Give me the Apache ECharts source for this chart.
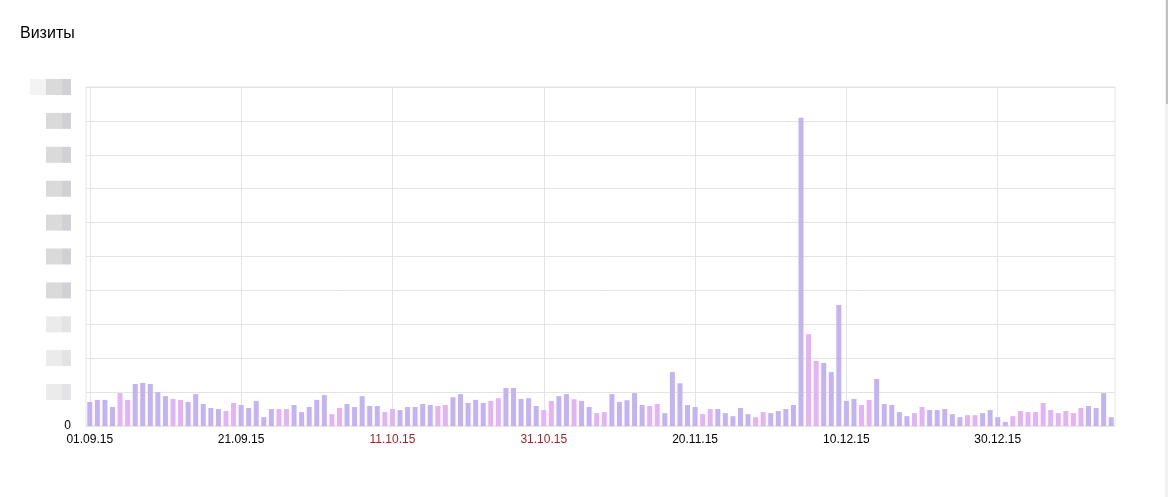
<!DOCTYPE html>
<html>
<head>
<meta charset="utf-8">
<script src="https://cdn.jsdelivr.net/npm/echarts@6/dist/echarts.min.js"></script>
<style>
html,body{margin:0;padding:0;background:#fff;}
#chart{width:1168px;height:497px;}
</style>
</head>
<body>
<div id="chart"></div>
<script>
const titleText = 'Визиты';
const startDate = [2015, 8, 1]; // 01.09.15
const dayCount = 136;
const holidays = ['04.11.15','01.01.16','02.01.16','03.01.16','04.01.16','05.01.16','06.01.16','07.01.16','08.01.16'];
const visits = [
  71,77,77,56,97,77,124,127,124,100,88,80,77,71,94,65,53,50,44,68,
  62,53,74,26,50,50,50,62,41,56,77,91,35,53,65,56,88,59,59,41,
  50,47,56,56,65,62,59,62,85,94,68,77,68,74,82,112,112,80,82,59,
  47,74,88,94,79,74,56,38,41,94,71,76,97,62,59,65,38,159,126,62,
  56,35,50,50,38,29,53,35,26,41,38,44,50,62,909,271,192,186,159,357,
  74,80,62,77,139,65,62,41,29,38,56,47,47,50,35,26,32,32,38,47,
  26,12,29,44,41,41,68,47,38,44,38,53,59,53,97,26
];
const yMax = 1000;
const yInterval = 100;

function pad(n){ return (n<10?'0':'')+n; }
const categories = [];
const offDay = [];
for (let i = 0; i < dayCount; i++) {
  const d = new Date(startDate[0], startDate[1], startDate[2] + i);
  const lbl = pad(d.getDate()) + '.' + pad(d.getMonth()+1) + '.' + String(d.getFullYear()).slice(2);
  categories.push(lbl);
  const wd = d.getDay();
  offDay.push(wd === 0 || wd === 6 || holidays.indexOf(lbl) >= 0);
}

const weekdayColor = '#c3b3f3';
const weekendColor = '#e4b3f5';
const gridColor = '#e4e4e4';

const chart = echarts.init(document.getElementById('chart'));
chart.setOption({
  animation: false,
  backgroundColor: '#fff',
  title: {
    text: titleText, left: 15, top: 21,
    textStyle: {fontFamily: 'Liberation Sans, Arial, sans-serif', fontSize: 16, fontWeight: 'normal', color: '#000'}
  },
  grid: {left: 86, right: 53, top: 87, bottom: 71, show: true, borderColor: gridColor, borderWidth: 1, backgroundColor: 'transparent'},
  xAxis: {
    type: 'category',
    data: categories,
    boundaryGap: true,
    axisLine: {lineStyle: {color: gridColor}},
    axisTick: {show: false, interval: 19, alignWithLabel: true},
    splitLine: {show: true, interval: 19, alignWithLabel: true, lineStyle: {color: gridColor, width: 1}},
    axisLabel: {
      interval: 19, margin: 8,
      fontFamily: 'Liberation Sans, Arial, sans-serif', fontSize: 12,
      color: function (v, i) { return offDay[categories.indexOf(v)] ? '#98292a' : '#000'; }
    }
  },
  yAxis: {
    type: 'value', min: 0, max: yMax, interval: yInterval,
    axisLine: {show: false}, axisTick: {show: false},
    splitLine: {lineStyle: {color: gridColor, width: 1}},
    axisLabel: {
      margin: 15,
      fontFamily: 'Liberation Sans, Arial, sans-serif', fontSize: 12, color: '#000',
      formatter: function (v) {
        if (v === 0) return '0';
        if (v >= 1000) return '{w|}{a|}{b|}';
        if (v <= 300) return '{la|}{lb|}';
        return '{a|}{b|}';
      },
      rich: {
        w: {width: 16, height: 16, backgroundColor: '#f3f3f3'},
        a: {width: 16, height: 16, backgroundColor: '#dadada'},
        b: {width: 9, height: 16, backgroundColor: '#d0d0d5'},
        la: {width: 16, height: 16, backgroundColor: '#ebebeb'},
        lb: {width: 9, height: 16, backgroundColor: '#e3e3e6'}
      }
    }
  },
  series: [{
    type: 'bar',
    barWidth: 5,
    data: visits.map(function (v, i) {
      return {value: v, itemStyle: {color: offDay[i] ? weekendColor : weekdayColor}};
    })
  }],
  graphic: [
    {type: 'rect', shape: {x: 1165, y: 0, width: 3, height: 497}, style: {fill: '#f1f1f1'}, silent: true},
    {type: 'rect', shape: {x: 1166, y: 0, width: 2, height: 104}, style: {fill: '#c1c1c1'}, silent: true}
  ]
});
</script>
</body>
</html>
